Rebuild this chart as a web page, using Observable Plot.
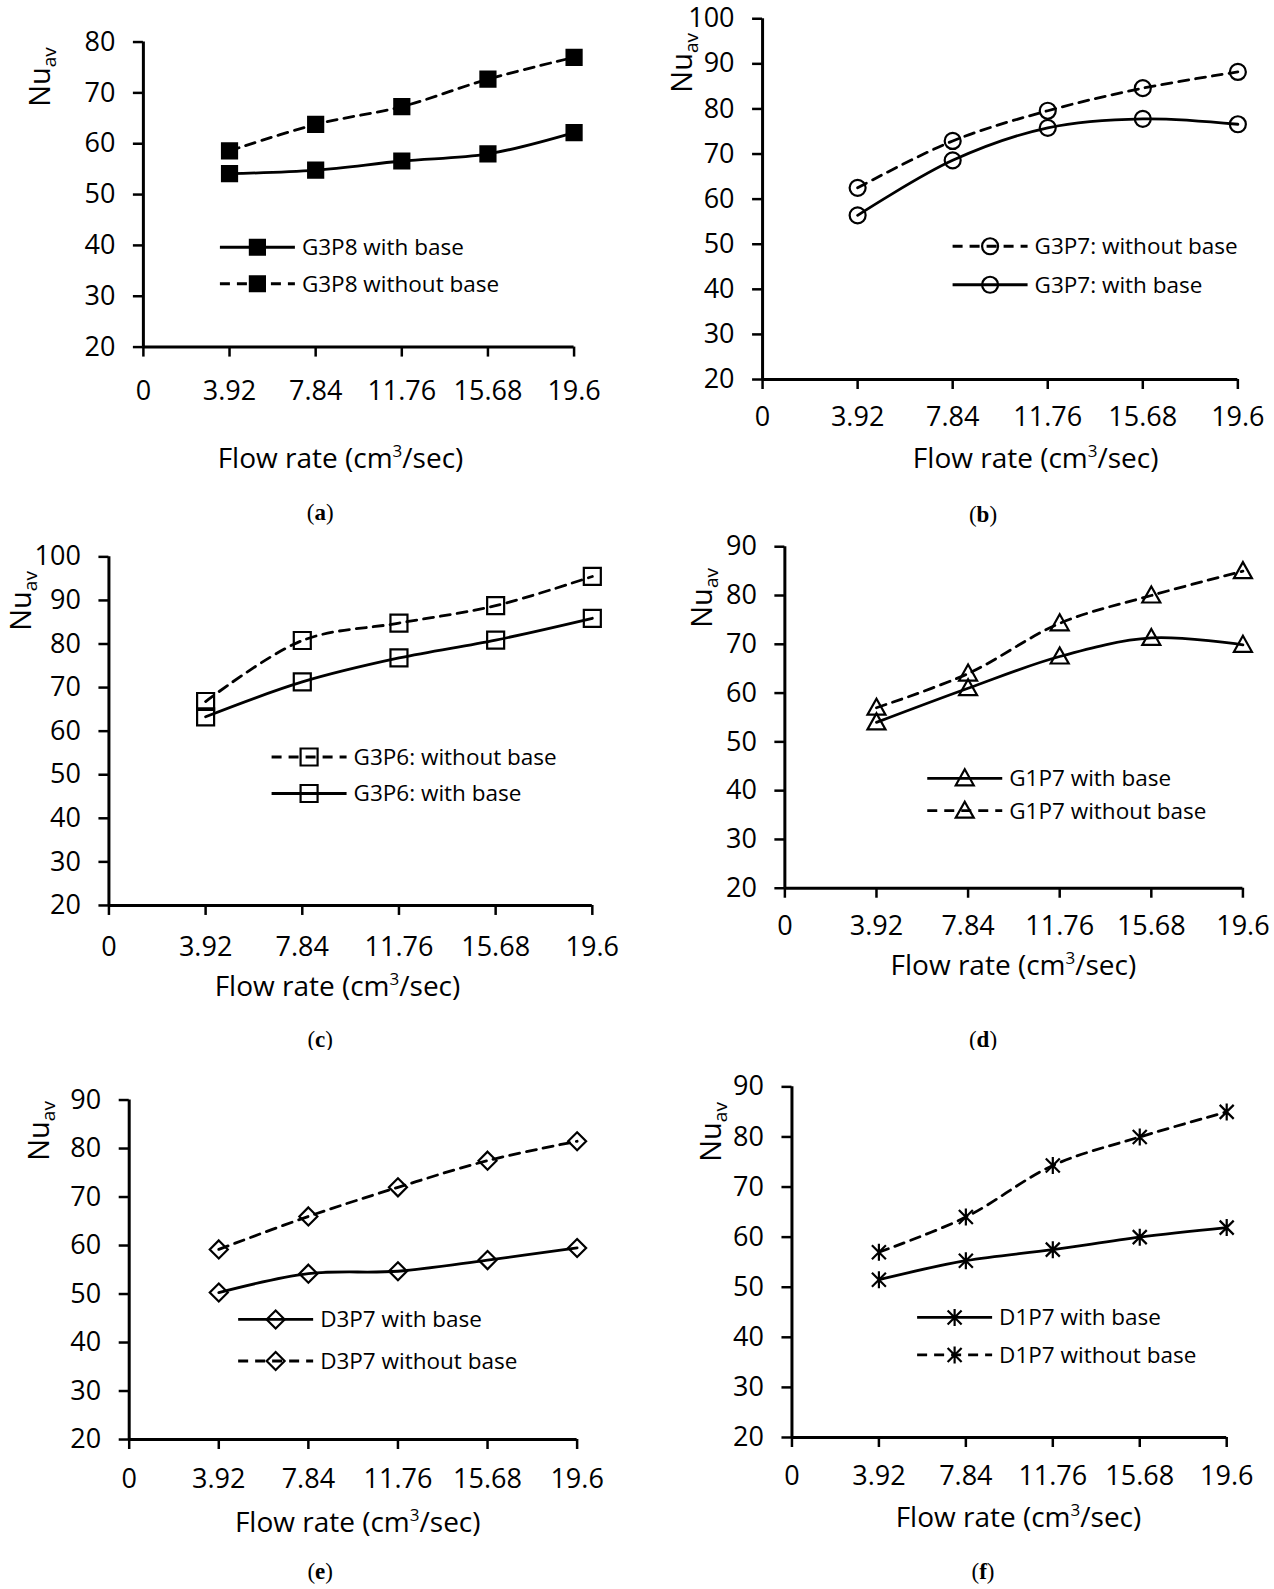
<!DOCTYPE html>
<html>
<head>
<meta charset="utf-8">
<script src="https://cdn.jsdelivr.net/npm/d3@7"></script>
<script src="https://cdn.jsdelivr.net/npm/@observablehq/plot@0.6"></script>
<style>
  html, body { margin: 0; padding: 0; background: white; overflow: hidden; width: 1274px; height: 1589px; }
  #page { position: relative; width: 1274px; height: 1589px; background: white; overflow: hidden; }
  #page svg { position: absolute; overflow: visible; }
</style>
</head>
<body>
<div id="page"></div>
<script>
// ---------- data ----------
const flowRate = [3.92, 7.84, 11.76, 15.68, 19.6];
const xTicks = [0, 3.92, 7.84, 11.76, 15.68, 19.6];

const g3p8WithBase    = [54.1, 54.8, 56.6, 58.0, 62.2];
const g3p8WithoutBase = [58.6, 63.8, 67.3, 72.7, 77.0];

const g3p7WithoutBase = [62.5, 72.9, 79.6, 84.6, 88.2];
const g3p7WithBase    = [56.4, 68.6, 75.8, 77.8, 76.6];

const g3p6WithoutBase = [66.8, 80.8, 84.8, 88.8, 95.5];
const g3p6WithBase    = [63.3, 71.3, 76.8, 80.9, 85.9];

const g1p7WithBase    = [54.0, 61.0, 67.5, 71.3, 69.9];
const g1p7WithoutBase = [57.0, 64.0, 74.3, 80.0, 85.0];

const d3p7WithBase    = [50.3, 54.2, 54.7, 57.0, 59.5];
const d3p7WithoutBase = [59.2, 66.0, 72.0, 77.5, 81.5];

const d1p7WithBase    = [51.5, 55.3, 57.5, 60.0, 61.9];
const d1p7WithoutBase = [57.0, 64.0, 74.3, 80.0, 85.0];

const yDomains = {a: [20, 80], b: [20, 100], c: [20, 100], d: [20, 90], e: [20, 90], f: [20, 90]};
const captions = {a: "a", b: "b", c: "c", d: "d", e: "e", f: "f"};

// ---------- symbols (Excel-like markers) ----------
const symSquare = {draw(c) { c.rect(-7.5, -7.5, 15, 15); }};
const symOpenSquare = {draw(c) { c.rect(-8.5, -8.5, 17, 17); }};
const symCircle = {draw(c) { c.moveTo(8, 0); c.arc(0, 0, 8, 0, 2 * Math.PI); c.closePath(); }};
const symTriangle = {draw(c) { c.moveTo(0, -9); c.lineTo(9, 7); c.lineTo(-9, 7); c.closePath(); }};
const symDiamond = {draw(c) { c.moveTo(0, -9); c.lineTo(9, 0); c.lineTo(0, 9); c.lineTo(-9, 0); c.closePath(); }};
const symStar = {draw(c) {
  c.moveTo(0, -8.5); c.lineTo(0, 8.5);
  c.moveTo(-7, -7); c.lineTo(7, 7);
  c.moveTo(-7, 7); c.lineTo(7, -7);
}};

const FONT = "'Open Sans', 'Noto Sans', sans-serif";
const DASH = "10,7";
const S = 1589 / 1568;           // layout positions were measured on a 1568-high view
const s = v => v * S;

// ---------- panel layout (measured positions) ----------
const panels = [
  {key: "a", L: 0, T: 0, H: 530, x0: 141, x1: 566, yB: 342, yT: 41,
   sym: symSquare, filled: true,
   series: [{name: "G3P8 with base", values: g3p8WithBase, dashed: false},
            {name: "G3P8 without base", values: g3p8WithoutBase, dashed: true}],
   xLabPad: 23, yTitle: [38, 76], xTitle: [336, 452], cap: [316, 505],
   leg: {x: 217, y: 244, dy: 36, len: 74}},
  {key: "b", L: 637, T: 0, H: 530, x0: 752, x1: 1221, yB: 374, yT: 18,
   sym: symCircle, filled: false,
   series: [{name: "G3P7: without base", values: g3p7WithoutBase, dashed: true},
            {name: "G3P7: with base", values: g3p7WithBase, dashed: false}],
   xLabPad: 17, yTitle: [672, 62], xTitle: [1022, 452], cap: [970, 507],
   leg: {x: 940, y: 243, dy: 38, len: 74}},
  {key: "c", L: 0, T: 530, H: 520, x0: 107, x1: 584, yB: 893, yT: 549,
   sym: symOpenSquare, filled: false,
   series: [{name: "G3P6: without base", values: g3p6WithoutBase, dashed: true},
            {name: "G3P6: with base", values: g3p6WithBase, dashed: false}],
   xLabPad: 21, yTitle: [20, 593], xTitle: [333, 973], cap: [316, 1025],
   leg: {x: 268, y: 747, dy: 36, len: 74}},
  {key: "d", L: 637, T: 530, H: 520, x0: 774, x1: 1226, yB: 876, yT: 539,
   sym: symTriangle, filled: false,
   series: [{name: "G1P7 with base", values: g1p7WithBase, dashed: false},
            {name: "G1P7 without base", values: g1p7WithoutBase, dashed: true}],
   xLabPad: 17, yTitle: [692, 590], xTitle: [1000, 952], cap: [970, 1025],
   leg: {x: 915, y: 768, dy: 32, len: 74}},
  {key: "e", L: 0, T: 1050, H: 539, x0: 127, x1: 569, yB: 1420, yT: 1085,
   sym: symDiamond, filled: false,
   series: [{name: "D3P7 with base", values: d3p7WithBase, dashed: false},
            {name: "D3P7 without base", values: d3p7WithoutBase, dashed: true}],
   xLabPad: 19, yTitle: [37, 1116], xTitle: [353, 1502], cap: [316, 1550],
   leg: {x: 235, y: 1302, dy: 41, len: 74}},
  {key: "f", L: 637, T: 1050, H: 539, x0: 781, x1: 1210, yB: 1418, yT: 1072,
   sym: symStar, filled: false,
   series: [{name: "D1P7 with base", values: d1p7WithBase, dashed: false},
            {name: "D1P7 without base", values: d1p7WithoutBase, dashed: true}],
   xLabPad: 18, yTitle: [700, 1117], xTitle: [1005, 1497], cap: [970, 1550],
   leg: {x: 905, y: 1300, dy: 37, len: 74}}
];

const page = document.getElementById("page");
const W = 637;

for (const p of panels) {
  const [ymin, ymax] = yDomains[p.key];
  const yTicks = d3.range(ymin, ymax + 1, 10);
  const x0 = s(p.x0), x1 = s(p.x1), yB = s(p.yB), yT = s(p.yT);
  const marks = [];
  for (const sr of p.series) {
    const data = flowRate.map((x, i) => ({x, y: sr.values[i]}));
    marks.push(Plot.line(data, {x: "x", y: "y", curve: "catmull-rom", stroke: "black",
      strokeWidth: 2.8, strokeDasharray: sr.dashed ? DASH : null}));
    marks.push(Plot.dot(data, {x: "x", y: "y", symbol: p.sym, r: 8,
      stroke: "black", strokeWidth: 2.2, fill: p.filled ? "black" : "none"}));
  }
  const svg = Plot.plot({
    width: W, height: p.H,
    marginLeft: x0 - p.L, marginRight: p.L + W - x1,
    marginTop: yT - p.T, marginBottom: p.T + p.H - yB,
    style: {fontFamily: FONT, fontSize: "27px", color: "black", background: "white", overflow: "visible"},
    x: {domain: [0, 19.6]},
    y: {domain: [ymin, ymax]},
    marks: [
      Plot.axisX(xTicks, {tickSize: 10, tickPadding: s(p.xLabPad), strokeWidth: 2.5, fontSize: 27,
        tickFormat: d => String(d), label: null}),
      Plot.axisY(yTicks, {tickSize: 10, tickPadding: 18, strokeWidth: 2.5, fontSize: 27,
        tickFormat: d => String(d), label: null}),
      Plot.ruleX([0], {strokeWidth: 3}),
      Plot.ruleY([ymin], {strokeWidth: 3}),
      ...marks
    ]
  });
  svg.style.left = p.L + "px";
  svg.style.top = p.T + "px";
  page.appendChild(svg);

  const g = d3.select(svg).append("g").attr("transform", `translate(${-p.L},${-p.T})`)
    .attr("font-family", FONT).attr("fill", "black").attr("text-anchor", "start");

  // y title Nu_av
  const yt = g.append("text")
    .attr("transform", `translate(${s(p.yTitle[0] + 11)},${s(p.yTitle[1])}) rotate(-90)`)
    .attr("text-anchor", "middle").attr("font-size", 29);
  yt.append("tspan").text("Nu");
  yt.append("tspan").attr("font-size", 19).attr("dy", 6).text("av");

  // x title
  const xt = g.append("text").attr("x", s(p.xTitle[0])).attr("y", s(p.xTitle[1]))
    .attr("dy", "0.35em").attr("text-anchor", "middle").attr("font-size", 28);
  xt.append("tspan").text("Flow rate (cm");
  xt.append("tspan").attr("font-size", 17).attr("dy", -11).text("3");
  xt.append("tspan").attr("dy", 11).text("/sec)");

  // caption
  const cp = g.append("text").attr("x", s(p.cap[0])).attr("y", s(p.cap[1])).attr("dy", "0.35em")
    .attr("text-anchor", "middle").attr("font-family", "'Liberation Serif', 'DejaVu Serif', serif")
    .attr("font-size", 23);
  cp.append("tspan").text("(");
  cp.append("tspan").attr("font-weight", "bold").text(captions[p.key]);
  cp.append("tspan").text(")");

  // legend
  p.series.forEach((sr, i) => {
    const lx = s(p.leg.x), ly = s(p.leg.y + i * p.leg.dy), len = s(p.leg.len);
    g.append("line").attr("x1", lx).attr("x2", lx + len)
      .attr("y1", ly).attr("y2", ly).attr("stroke", "black").attr("stroke-width", 2.8)
      .attr("stroke-dasharray", sr.dashed ? DASH : null);
    g.append("path").attr("transform", `translate(${lx + len / 2},${ly})`)
      .attr("d", d3.symbol(p.sym)()).attr("stroke", "black").attr("stroke-width", 2.2)
      .attr("fill", p.filled ? "black" : "none");
    g.append("text").attr("x", lx + len + 7).attr("y", ly).attr("dy", "0.35em")
      .attr("text-anchor", "start").attr("font-size", 22.5).text(sr.name);
  });
}
</script>
</body>
</html>
